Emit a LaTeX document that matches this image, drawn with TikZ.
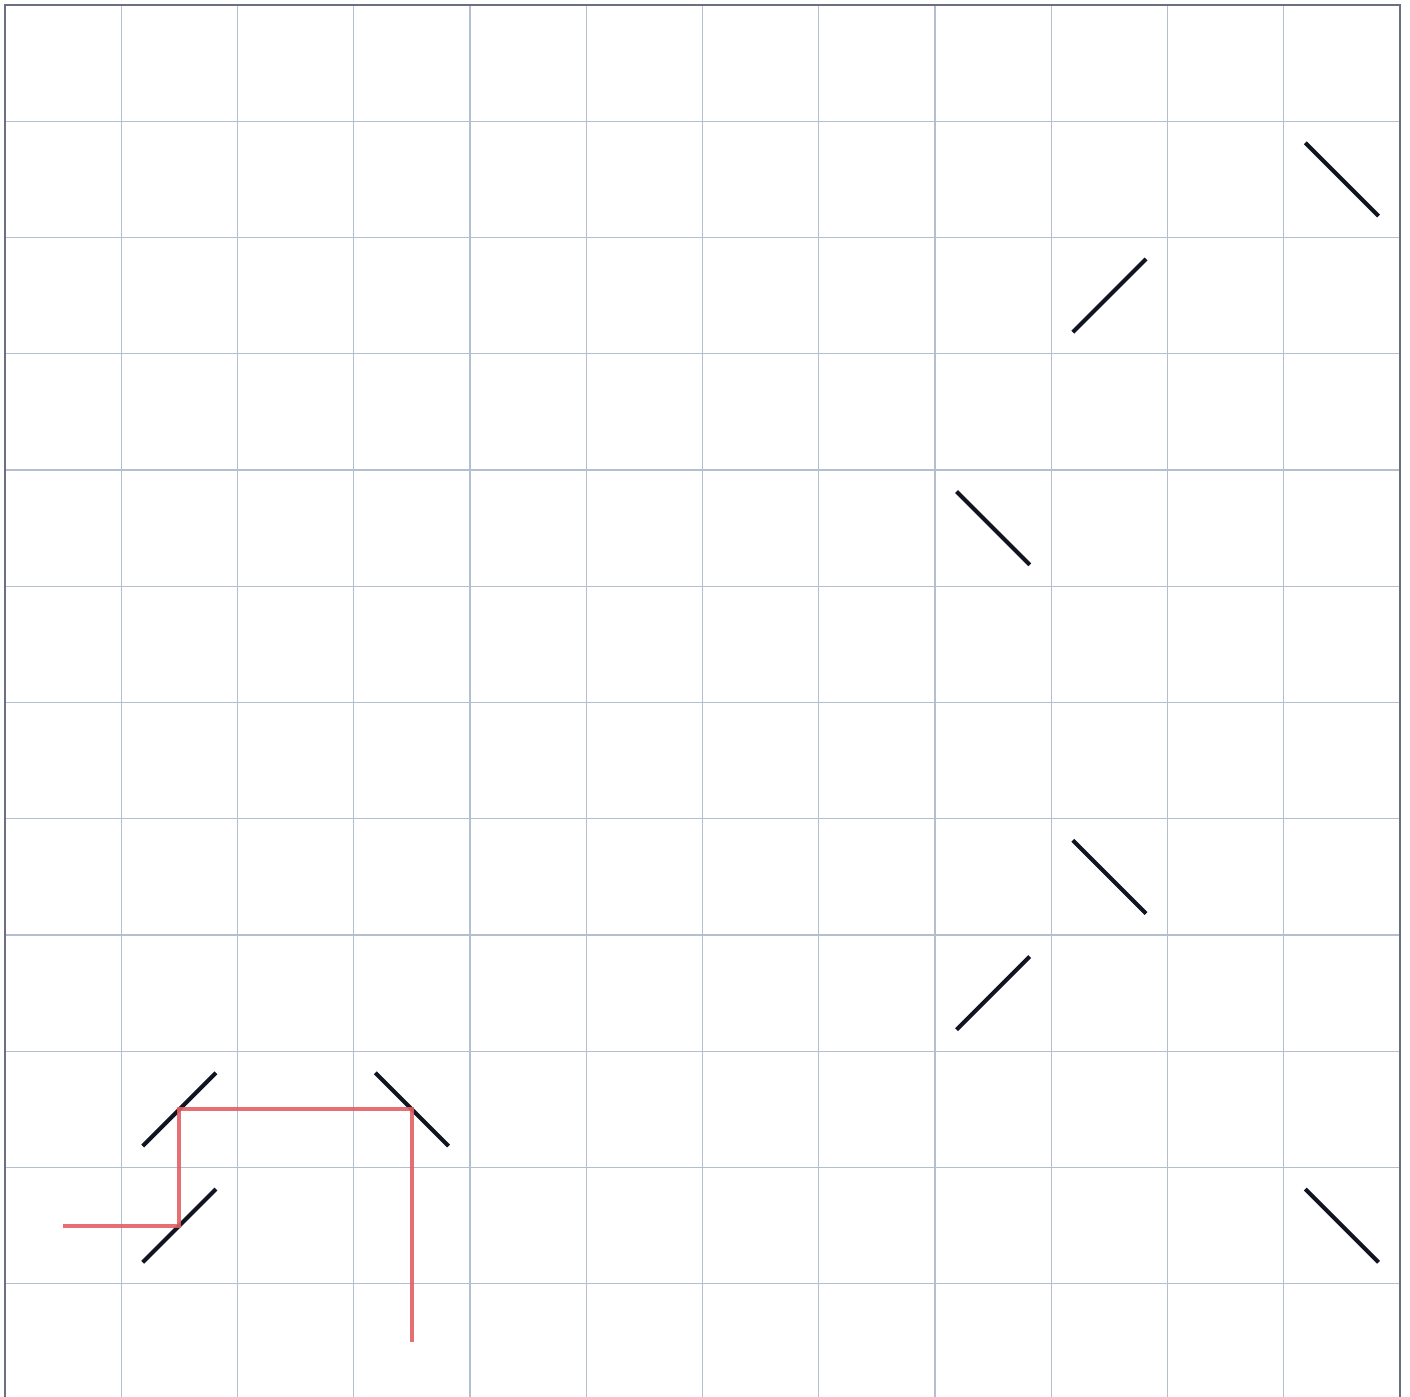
\documentclass[tikz,border=0pt]{standalone}
\usepackage{xcolor}
\definecolor{gridc}{HTML}{B3BECE}
\definecolor{framec}{HTML}{6B7080}
\definecolor{mirrorc}{HTML}{111522}
\definecolor{beamc}{HTML}{E25F63}
\begin{document}
\begin{tikzpicture}[x=116.25pt,y=-116.25pt,
  gridline/.style={draw=gridc,line width=1.2pt},
  frameline/.style={draw=framec,line width=2.6pt},
  mirror/.style={draw=mirrorc,line width=4.2pt},
  beam/.style={draw=beamc,line width=4.2pt,opacity=0.9,line join=miter}]
\useasboundingbox (-0.043,-0.043) rectangle (12.086,11.966);
\clip (-0.043,-0.043) rectangle (12.086,11.966);
% grid
\foreach \i in {1,...,11} {
  \draw[gridline] (\i,0) -- (\i,12);
  \draw[gridline] (0,\i) -- (12,\i);
}
\draw[frameline] (0,0) rectangle (12,12);
% mirrors: "\" = back, "/" = fwd
\newcommand{\mback}[2]{\draw[mirror] (#1+0.5-0.315,#2+0.5-0.315) -- (#1+0.5+0.315,#2+0.5+0.315);}
\newcommand{\mfwd}[2]{\draw[mirror] (#1+0.5-0.315,#2+0.5+0.315) -- (#1+0.5+0.315,#2+0.5-0.315);}
\mback{11}{1}
\mfwd{9}{2}
\mback{8}{4}
\mback{9}{7}
\mfwd{8}{8}
\mfwd{1}{9}
\mback{3}{9}
\mfwd{1}{10}
\mback{11}{10}
% beam
\coordinate (b0) at (0.5,10.5);
\coordinate (b1) at (1.5,10.5);
\coordinate (b2) at (1.5,9.5);
\coordinate (b3) at (3.5,9.5);
\coordinate (b4) at (3.5,11.5);
\draw[beam] (b0) -- (b1) -- (b2) -- (b3) -- (b4);
\end{tikzpicture}
\end{document}
